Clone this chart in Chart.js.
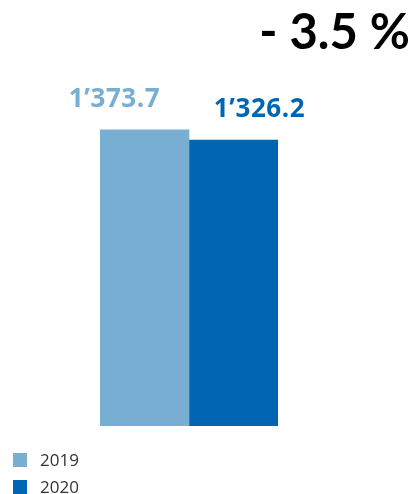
<!DOCTYPE html>
<html>
<head>
<meta charset="utf-8">
<script src="https://cdn.jsdelivr.net/npm/chart.js@4/dist/chart.umd.min.js"></script>
<style>
  html, body { margin: 0; padding: 0; background: #fff; }
  #wrap { position: relative; width: 414px; height: 494px; overflow: hidden; }
  #change { position: absolute; right: 4px; top: 1px; font-family: Lato, sans-serif; font-weight: bold; font-size: 49px; color: #000; white-space: pre; }
  #legend { position: absolute; left: 13px; top: 446px; font-family: "Open Sans", sans-serif; font-size: 17px; color: #333; }
  #legend div { height: 27px; display: flex; align-items: center; }
  #legend span.box { display: inline-block; width: 14px; height: 14px; margin-right: 13px; }
</style>
</head>
<body>
<div id="wrap">
  <canvas id="revenueChart" width="414" height="494"></canvas>
  <div id="change">- 3.5 %</div>
  <div id="legend"></div>
</div>
<script>
// du lieu
const years = ['2019', '2020'];
const values = [1373.7, 1326.2];
const valueLabels = ["1\u2019373.7", "1\u2019326.2"];
const colors = ['#77AED2', '#0066B3'];
const labelShift = [-30, 26];

// nhan gia tri tren cot
const valueLabelPlugin = {
    id: 'valueLabels',
    afterDatasetsDraw(chart) {
        const ctx = chart.ctx;
        ctx.save();
        ctx.font = 'bold 26px "Open Sans", sans-serif';
        ctx.letterSpacing = '0.6px';
        ctx.textAlign = 'center';
        ctx.textBaseline = 'alphabetic';
        chart.data.datasets.forEach((ds, i) => {
            const bar = chart.getDatasetMeta(i).data[0];
            ctx.fillStyle = colors[i];
            ctx.fillText(valueLabels[i], bar.x + labelShift[i], bar.y - 23);
        });
        ctx.restore();
    }
};

const ctx = document.getElementById('revenueChart').getContext('2d');
const chart = new Chart(ctx, {
    type: 'bar',
    data: {
        labels: [''],
        datasets: years.map((y, i) => ({
            label: y,
            data: [values[i]],
            backgroundColor: colors[i],
            borderWidth: 0
        }))
    },
    options: {
        responsive: false,
        animation: false,
        layout: { padding: { left: 100, right: 136, top: 81, bottom: 68 } },
        datasets: { bar: { categoryPercentage: 1, barPercentage: 1 } },
        scales: {
            x: { display: false },
            y: { display: false, min: 0, max: 1600 }
        },
        plugins: {
            legend: { display: false },
            tooltip: { enabled: false }
        }
    },
    plugins: [valueLabelPlugin]
});

// chu thich
const legend = document.getElementById('legend');
years.forEach((y, i) => {
    const row = document.createElement('div');
    row.innerHTML = '<span class="box" style="background:' + colors[i] + '"></span>' + y;
    legend.appendChild(row);
});
</script>
</body>
</html>
